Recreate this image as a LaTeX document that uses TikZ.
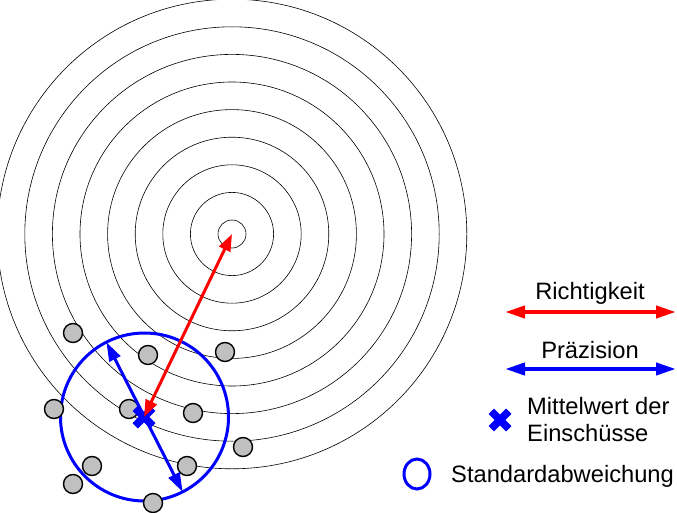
\documentclass[tikz,border=0pt]{standalone}
\usepackage{fontspec}
\setmainfont{Liberation Sans}
\usetikzlibrary{arrows.meta,shapes.misc}
\definecolor{myred}{RGB}{255,0,0}
\definecolor{myblue}{RGB}{0,0,255}
\definecolor{dotgray}{RGB}{192,192,192}
\begin{document}
\begin{tikzpicture}[x=1pt,y=-1pt,
  ring/.style={circle, draw=black, line width=0.6pt, inner sep=0pt, outer sep=0pt, minimum size=#1},
  shot/.style={circle, draw=black, line width=1.4pt, fill=dotgray, minimum size=19pt, inner sep=0pt},
  redarrow/.style={draw=myred, line width=3pt, {Triangle[length=17pt,width=12pt]}-{Triangle[length=17pt,width=12pt]}},
  bluearrow/.style={draw=myblue, line width=3pt, {Triangle[length=19pt,width=12pt]}-{Triangle[length=19pt,width=12pt]}},
  legred/.style={draw=myred, line width=4pt, {Triangle[length=20pt,width=12pt]}-{Triangle[length=20pt,width=12pt]}},
  legblue/.style={draw=myblue, line width=4pt, {Triangle[length=20pt,width=12pt]}-{Triangle[length=20pt,width=12pt]}},
  xmark/.style={cross out, draw=myblue, line width=7.5pt, minimum size=17.5pt, inner sep=0pt, outer sep=0pt},
  lab/.style={font=\fontsize{23.7pt}{27pt}\selectfont, inner sep=0pt, text=black}
]
\useasboundingbox (0,0) rectangle (677,513);
\clip (0,0) rectangle (677,513);
% target rings
\foreach \k in {1,...,9}{
  \pgfmathsetmacro{\d}{2*(14+27.6*(\k-1))}
  \node[ring=\d pt] (r\k) at (232,234) {};
}
% standard deviation circle
\node[circle, draw=myblue, line width=3pt, minimum size=168pt, inner sep=0pt, outer sep=0pt] (sd) at (144.5,417) {};
% shots
\node[shot] (s1) at (73,333) {};
\node[shot] (s2) at (148,355) {};
\node[shot] (s3) at (225,352) {};
\node[shot] (s4) at (54,409) {};
\node[shot] (s5) at (129,409) {};
\node[shot] (s6) at (193,413) {};
\node[shot] (s7) at (243,447) {};
\node[shot] (s8) at (92,466) {};
\node[shot] (s9) at (187,466) {};
\node[shot] (s10) at (73,484) {};
\node[shot] (s11) at (153,503) {};
% mean
\draw[bluearrow] (sd.117) -- (sd.297.5);
\node[xmark] (meanx) at (144,417) {};
\draw[redarrow] (meanx.center) -- (r1.center);
% legend
\coordinate (rl) at (505,312);
\coordinate (rr) at (676,312);
\draw[legred] (rl) -- (rr);
\node[lab, anchor=base] (trich) at (590,299.5) {Richtigkeit};
\coordinate (bl) at (505,369);
\coordinate (br) at (676,369);
\draw[legblue] (bl) -- (br);
\node[lab, anchor=base] (tpraez) at (590,358) {Präzision};
\node[xmark] (legx) at (500,420) {};
\node[lab, anchor=base west] (tmw1) at (527,414) {Mittelwert der};
\node[lab, anchor=base west] (tmw2) at (527,441) {Einschüsse};
\draw[myblue, line width=3pt] (417,474) ellipse [x radius=13, y radius=15];
\node[lab, anchor=base west] (tsd) at (451,482) {Standardabweichung};
\end{tikzpicture}
\end{document}
